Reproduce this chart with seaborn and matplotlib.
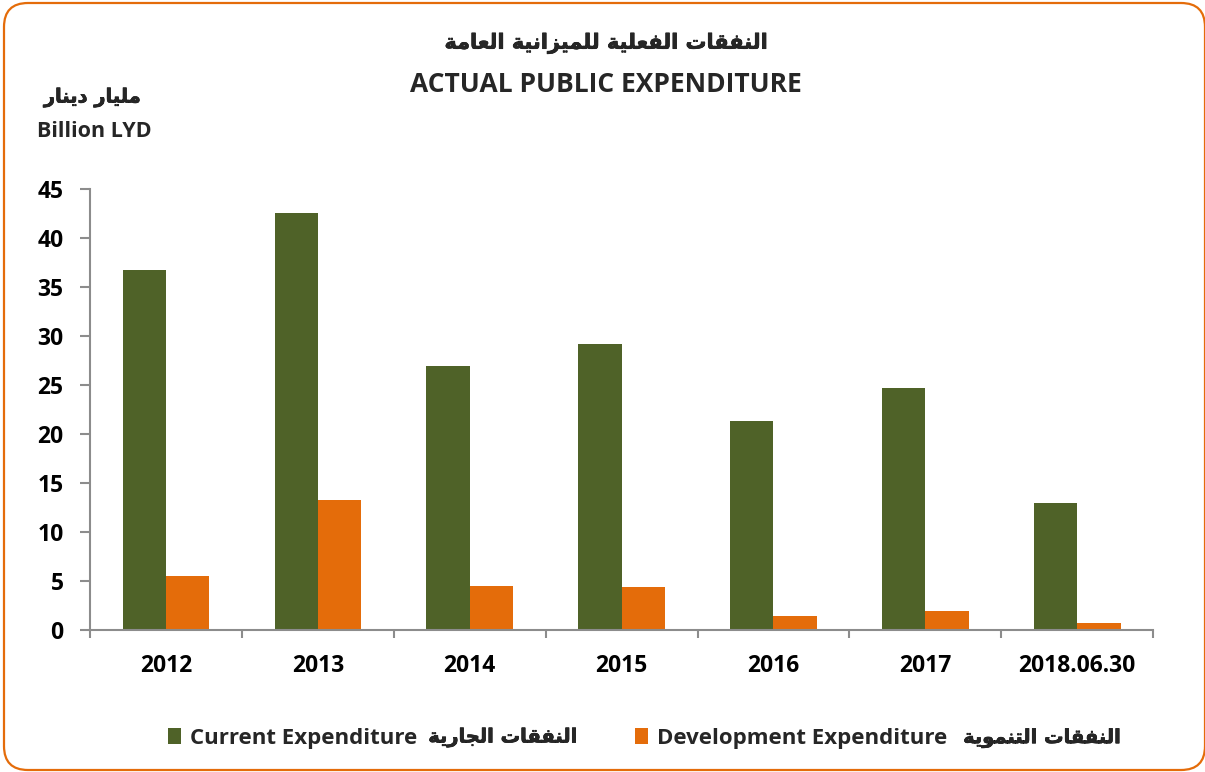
import numpy as np
import pandas as pd
import matplotlib
matplotlib.use("Agg")
import matplotlib.pyplot as plt
import matplotlib.patheffects as pe
import seaborn as sns
from matplotlib.patches import FancyBboxPatch, Patch
from matplotlib.transforms import IdentityTransform
from matplotlib.ticker import FixedLocator

# ── data ──────────────────────────────────────────────────────────────────────
periods = ["2012", "2013", "2014", "2015", "2016", "2017", "2018.06.30"]
current_exp = [36.7, 42.6, 26.9, 29.2, 21.3, 24.7, 13.0]
development_exp = [5.5, 13.3, 4.5, 4.4, 1.4, 1.9, 0.7]

title_ar = "النفقات الفعلية للميزانية العامة"
title_en = "ACTUAL PUBLIC EXPENDITURE"
unit_ar = "مليار دينار"
unit_en = "Billion LYD"
legend_en = ["Current Expenditure", "Development Expenditure"]
legend_ar = ["النفقات الجارية", "النفقات التنموية"]
yticks = [0, 5, 10, 15, 20, 25, 30, 35, 40, 45]

GREEN = "#4F6228"
ORANGE = "#E46C0A"
GREY = "#8C8C8C"
LATIN = "Open Sans"

# ── minimal Arabic shaping (matplotlib has no bidi / joining) ─────────────────
# letter: (isolated, final, initial, medial); None = right-joining only
AR_FORMS = {
    "ا": ("\uFE8D", "\uFE8E", None, None),
    "ب": ("\uFE8F", "\uFE90", "\uFE91", "\uFE92"),
    "ة": ("\uFE93", "\uFE94", None, None),
    "ت": ("\uFE95", "\uFE96", "\uFE97", "\uFE98"),
    "ج": ("\uFE9D", "\uFE9E", "\uFE9F", "\uFEA0"),
    "د": ("\uFEA9", "\uFEAA", None, None),
    "ر": ("\uFEAD", "\uFEAE", None, None),
    "ز": ("\uFEAF", "\uFEB0", None, None),
    "ع": ("\uFEC9", "\uFECA", "\uFECB", "\uFECC"),
    "ف": ("\uFED1", "\uFED2", "\uFED3", "\uFED4"),
    "ق": ("\uFED5", "\uFED6", "\uFED7", "\uFED8"),
    "ل": ("\uFEDD", "\uFEDE", "\uFEDF", "\uFEE0"),
    "م": ("\uFEE1", "\uFEE2", "\uFEE3", "\uFEE4"),
    "ن": ("\uFEE5", "\uFEE6", "\uFEE7", "\uFEE8"),
    "و": ("\uFEED", "\uFEEE", None, None),
    "ي": ("\uFEF1", "\uFEF2", "\uFEF3", "\uFEF4"),
}


def _joins_next(c):
    return c in AR_FORMS and AR_FORMS[c][2] is not None


def shape_ar(text):
    out, i, n = [], 0, len(text)
    while i < n:
        c = text[i]
        if c not in AR_FORMS:
            out.append(c)
            i += 1
            continue
        conn_prev = i > 0 and _joins_next(text[i - 1])
        if c == "ل" and i + 1 < n and text[i + 1] == "ا":
            out.append("\uFEFC" if conn_prev else "\uFEFB")
            i += 2
            continue
        conn_next = _joins_next(c) and i + 1 < n and text[i + 1] in AR_FORMS
        iso, fin, ini, med = AR_FORMS[c]
        if conn_prev and conn_next:
            out.append(med)
        elif conn_prev:
            out.append(fin)
        elif conn_next:
            out.append(ini)
        else:
            out.append(iso)
        i += 1
    return "".join(reversed(out))


# DejaVu's Arabic is light next to the reference, so thicken it a little
AR_BOLD = [pe.withStroke(linewidth=0.45, foreground="black")]

# ── figure ────────────────────────────────────────────────────────────────────
sns.set_theme(style="white")
plt.rcParams["font.family"] = [LATIN, "DejaVu Sans"]
plt.rcParams["font.weight"] = "bold"

df = pd.DataFrame({
    "period": periods * 2,
    "value": current_exp + development_exp,
    "series": [legend_en[0]] * len(periods) + [legend_en[1]] * len(periods),
})

fig = plt.figure(figsize=(12.05, 7.72), dpi=100)
ax = fig.add_axes([0.0747, 0.184, 0.8823, 0.571])

sns.barplot(data=df, x="period", y="value", hue="series",
            palette=[GREEN, ORANGE], width=0.57, gap=0, linewidth=0,
            saturation=1, ax=ax, legend=False)

ax.set_xlim(-0.5, len(periods) - 0.5)
ax.set_ylim(0, 45)
ax.set_yticks(yticks)
ax.set_xlabel("")
ax.set_ylabel("")

for side in ["top", "right"]:
    ax.spines[side].set_visible(False)
for side in ["left", "bottom"]:
    ax.spines[side].set_color(GREY)
    ax.spines[side].set_linewidth(1.5)

ax.tick_params(axis="y", which="major", direction="out", length=7, width=1.5,
               color=GREY, labelsize=16.5, pad=12, left=True)
ax.tick_params(axis="x", which="major", length=0, labelsize=16.5, pad=17)
ax.xaxis.set_minor_locator(FixedLocator(np.arange(-0.5, len(periods), 1.0)))
ax.tick_params(axis="x", which="minor", direction="out", length=6, width=1.5,
               color=GREY, bottom=True)
for lab in ax.get_xticklabels() + ax.get_yticklabels():
    lab.set_fontweight("bold")
    lab.set_color("black")

# titles and unit labels
fig.text(0.503, 0.944, shape_ar(title_ar), ha="center", va="center",
         fontsize=15, fontweight="bold", family=["DejaVu Sans"],
         path_effects=AR_BOLD)
fig.text(0.503, 0.890, title_en, ha="center", va="center",
         fontsize=19, fontweight="bold")
fig.text(0.077, 0.873, shape_ar(unit_ar), ha="center", va="center",
         fontsize=14, fontweight="bold", family=["DejaVu Sans"],
         path_effects=AR_BOLD)
fig.text(0.0785, 0.830, unit_en, ha="center", va="center",
         fontsize=15.5, fontweight="bold")

# legend: one swatch + English label each, Arabic label set beside it
legend_x = [168 / 1205, 635 / 1205]
legend_ar_right = [578 / 1205, 1122 / 1205]
legend_y = 0.044
for k, color in enumerate([GREEN, ORANGE]):
    fig.legend([Patch(facecolor=color, edgecolor="none")], [legend_en[k]],
               loc="center left", bbox_to_anchor=(legend_x[k], legend_y),
               frameon=False, borderpad=0, borderaxespad=0,
               handlelength=0.6, handleheight=0.75, handletextpad=0.4,
               prop={"family": [LATIN], "weight": "bold", "size": 16})
    fig.text(legend_ar_right[k], legend_y, shape_ar(legend_ar[k]),
             ha="right", va="center", fontsize=14, fontweight="bold",
             family=["DejaVu Sans"], path_effects=AR_BOLD)

# rounded orange frame around the whole chart
frame = FancyBboxPatch((4, 2), 1201, 767,
                       boxstyle="round,pad=0,rounding_size=24",
                       transform=IdentityTransform(), fill=False,
                       edgecolor=ORANGE, linewidth=1.6)
fig.patches.append(frame)

fig.savefig("out.png", dpi=100)
